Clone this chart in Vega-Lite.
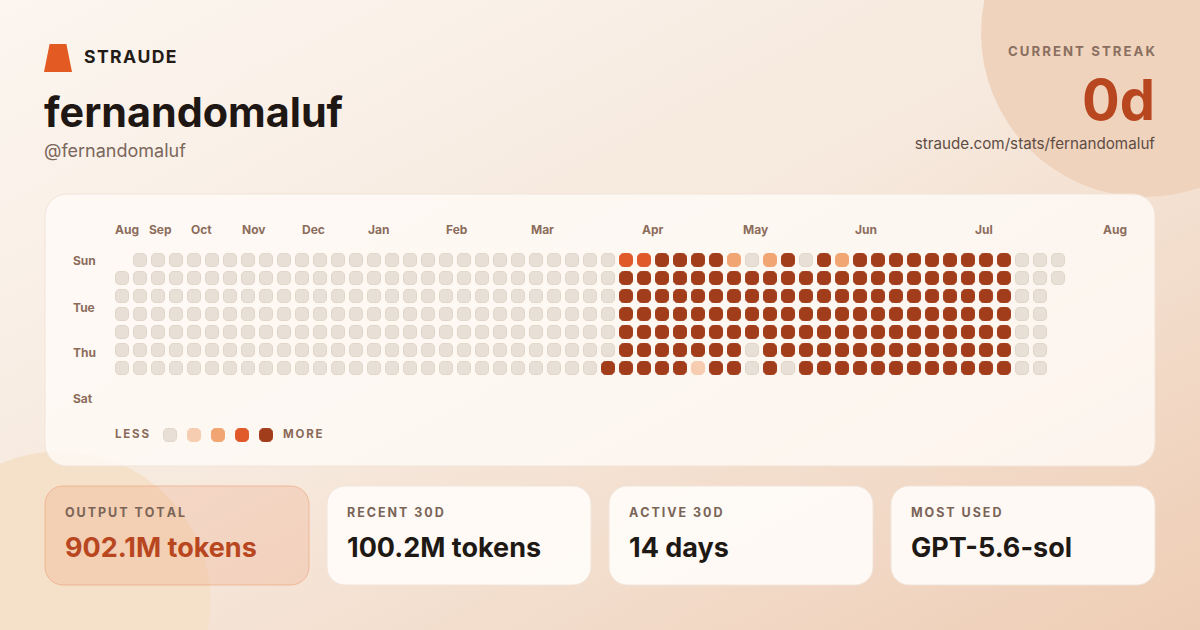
{
"$schema": "https://vega.github.io/schema/vega-lite/v6.json",
"width": 1200, "height": 630, "padding": 0,
"autosize": {"type": "fit", "contains": "padding"},
"background": "#F8EDE3",
"config": {"view": {"stroke": null}, "axis": {"disable": true}, "font": "Inter"},
"data": {"values": [{}]},
"datasets": {
"cells": [
{"week":0,"day":1,"level":0},{"week":0,"day":2,"level":0},{"week":0,"day":3,"level":0},{"week":0,"day":4,"level":0},{"week":0,"day":5,"level":0},{"week":0,"day":6,"level":0},
{"week":1,"day":0,"level":0},{"week":1,"day":1,"level":0},{"week":1,"day":2,"level":0},{"week":1,"day":3,"level":0},{"week":1,"day":4,"level":0},{"week":1,"day":5,"level":0},{"week":1,"day":6,"level":0},
{"week":2,"day":0,"level":0},{"week":2,"day":1,"level":0},{"week":2,"day":2,"level":0},{"week":2,"day":3,"level":0},{"week":2,"day":4,"level":0},{"week":2,"day":5,"level":0},{"week":2,"day":6,"level":0},
{"week":3,"day":0,"level":0},{"week":3,"day":1,"level":0},{"week":3,"day":2,"level":0},{"week":3,"day":3,"level":0},{"week":3,"day":4,"level":0},{"week":3,"day":5,"level":0},{"week":3,"day":6,"level":0},
{"week":4,"day":0,"level":0},{"week":4,"day":1,"level":0},{"week":4,"day":2,"level":0},{"week":4,"day":3,"level":0},{"week":4,"day":4,"level":0},{"week":4,"day":5,"level":0},{"week":4,"day":6,"level":0},
{"week":5,"day":0,"level":0},{"week":5,"day":1,"level":0},{"week":5,"day":2,"level":0},{"week":5,"day":3,"level":0},{"week":5,"day":4,"level":0},{"week":5,"day":5,"level":0},{"week":5,"day":6,"level":0},
{"week":6,"day":0,"level":0},{"week":6,"day":1,"level":0},{"week":6,"day":2,"level":0},{"week":6,"day":3,"level":0},{"week":6,"day":4,"level":0},{"week":6,"day":5,"level":0},{"week":6,"day":6,"level":0},
{"week":7,"day":0,"level":0},{"week":7,"day":1,"level":0},{"week":7,"day":2,"level":0},{"week":7,"day":3,"level":0},{"week":7,"day":4,"level":0},{"week":7,"day":5,"level":0},{"week":7,"day":6,"level":0},
{"week":8,"day":0,"level":0},{"week":8,"day":1,"level":0},{"week":8,"day":2,"level":0},{"week":8,"day":3,"level":0},{"week":8,"day":4,"level":0},{"week":8,"day":5,"level":0},{"week":8,"day":6,"level":0},
{"week":9,"day":0,"level":0},{"week":9,"day":1,"level":0},{"week":9,"day":2,"level":0},{"week":9,"day":3,"level":0},{"week":9,"day":4,"level":0},{"week":9,"day":5,"level":0},{"week":9,"day":6,"level":0},
{"week":10,"day":0,"level":0},{"week":10,"day":1,"level":0},{"week":10,"day":2,"level":0},{"week":10,"day":3,"level":0},{"week":10,"day":4,"level":0},{"week":10,"day":5,"level":0},{"week":10,"day":6,"level":0},
{"week":11,"day":0,"level":0},{"week":11,"day":1,"level":0},{"week":11,"day":2,"level":0},{"week":11,"day":3,"level":0},{"week":11,"day":4,"level":0},{"week":11,"day":5,"level":0},{"week":11,"day":6,"level":0},
{"week":12,"day":0,"level":0},{"week":12,"day":1,"level":0},{"week":12,"day":2,"level":0},{"week":12,"day":3,"level":0},{"week":12,"day":4,"level":0},{"week":12,"day":5,"level":0},{"week":12,"day":6,"level":0},
{"week":13,"day":0,"level":0},{"week":13,"day":1,"level":0},{"week":13,"day":2,"level":0},{"week":13,"day":3,"level":0},{"week":13,"day":4,"level":0},{"week":13,"day":5,"level":0},{"week":13,"day":6,"level":0},
{"week":14,"day":0,"level":0},{"week":14,"day":1,"level":0},{"week":14,"day":2,"level":0},{"week":14,"day":3,"level":0},{"week":14,"day":4,"level":0},{"week":14,"day":5,"level":0},{"week":14,"day":6,"level":0},
{"week":15,"day":0,"level":0},{"week":15,"day":1,"level":0},{"week":15,"day":2,"level":0},{"week":15,"day":3,"level":0},{"week":15,"day":4,"level":0},{"week":15,"day":5,"level":0},{"week":15,"day":6,"level":0},
{"week":16,"day":0,"level":0},{"week":16,"day":1,"level":0},{"week":16,"day":2,"level":0},{"week":16,"day":3,"level":0},{"week":16,"day":4,"level":0},{"week":16,"day":5,"level":0},{"week":16,"day":6,"level":0},
{"week":17,"day":0,"level":0},{"week":17,"day":1,"level":0},{"week":17,"day":2,"level":0},{"week":17,"day":3,"level":0},{"week":17,"day":4,"level":0},{"week":17,"day":5,"level":0},{"week":17,"day":6,"level":0},
{"week":18,"day":0,"level":0},{"week":18,"day":1,"level":0},{"week":18,"day":2,"level":0},{"week":18,"day":3,"level":0},{"week":18,"day":4,"level":0},{"week":18,"day":5,"level":0},{"week":18,"day":6,"level":0},
{"week":19,"day":0,"level":0},{"week":19,"day":1,"level":0},{"week":19,"day":2,"level":0},{"week":19,"day":3,"level":0},{"week":19,"day":4,"level":0},{"week":19,"day":5,"level":0},{"week":19,"day":6,"level":0},
{"week":20,"day":0,"level":0},{"week":20,"day":1,"level":0},{"week":20,"day":2,"level":0},{"week":20,"day":3,"level":0},{"week":20,"day":4,"level":0},{"week":20,"day":5,"level":0},{"week":20,"day":6,"level":0},
{"week":21,"day":0,"level":0},{"week":21,"day":1,"level":0},{"week":21,"day":2,"level":0},{"week":21,"day":3,"level":0},{"week":21,"day":4,"level":0},{"week":21,"day":5,"level":0},{"week":21,"day":6,"level":0},
{"week":22,"day":0,"level":0},{"week":22,"day":1,"level":0},{"week":22,"day":2,"level":0},{"week":22,"day":3,"level":0},{"week":22,"day":4,"level":0},{"week":22,"day":5,"level":0},{"week":22,"day":6,"level":0},
{"week":23,"day":0,"level":0},{"week":23,"day":1,"level":0},{"week":23,"day":2,"level":0},{"week":23,"day":3,"level":0},{"week":23,"day":4,"level":0},{"week":23,"day":5,"level":0},{"week":23,"day":6,"level":0},
{"week":24,"day":0,"level":0},{"week":24,"day":1,"level":0},{"week":24,"day":2,"level":0},{"week":24,"day":3,"level":0},{"week":24,"day":4,"level":0},{"week":24,"day":5,"level":0},{"week":24,"day":6,"level":0},
{"week":25,"day":0,"level":0},{"week":25,"day":1,"level":0},{"week":25,"day":2,"level":0},{"week":25,"day":3,"level":0},{"week":25,"day":4,"level":0},{"week":25,"day":5,"level":0},{"week":25,"day":6,"level":0},
{"week":26,"day":0,"level":0},{"week":26,"day":1,"level":0},{"week":26,"day":2,"level":0},{"week":26,"day":3,"level":0},{"week":26,"day":4,"level":0},{"week":26,"day":5,"level":0},{"week":26,"day":6,"level":0},
{"week":27,"day":0,"level":0},{"week":27,"day":1,"level":0},{"week":27,"day":2,"level":0},{"week":27,"day":3,"level":0},{"week":27,"day":4,"level":0},{"week":27,"day":5,"level":0},{"week":27,"day":6,"level":4},
{"week":28,"day":0,"level":3},{"week":28,"day":1,"level":4},{"week":28,"day":2,"level":4},{"week":28,"day":3,"level":4},{"week":28,"day":4,"level":4},{"week":28,"day":5,"level":4},{"week":28,"day":6,"level":4},
{"week":29,"day":0,"level":3},{"week":29,"day":1,"level":4},{"week":29,"day":2,"level":4},{"week":29,"day":3,"level":4},{"week":29,"day":4,"level":4},{"week":29,"day":5,"level":4},{"week":29,"day":6,"level":4},
{"week":30,"day":0,"level":4},{"week":30,"day":1,"level":4},{"week":30,"day":2,"level":4},{"week":30,"day":3,"level":4},{"week":30,"day":4,"level":4},{"week":30,"day":5,"level":4},{"week":30,"day":6,"level":4},
{"week":31,"day":0,"level":4},{"week":31,"day":1,"level":4},{"week":31,"day":2,"level":4},{"week":31,"day":3,"level":4},{"week":31,"day":4,"level":4},{"week":31,"day":5,"level":4},{"week":31,"day":6,"level":4},
{"week":32,"day":0,"level":4},{"week":32,"day":1,"level":4},{"week":32,"day":2,"level":4},{"week":32,"day":3,"level":4},{"week":32,"day":4,"level":4},{"week":32,"day":5,"level":4},{"week":32,"day":6,"level":1},
{"week":33,"day":0,"level":4},{"week":33,"day":1,"level":4},{"week":33,"day":2,"level":4},{"week":33,"day":3,"level":4},{"week":33,"day":4,"level":4},{"week":33,"day":5,"level":4},{"week":33,"day":6,"level":4},
{"week":34,"day":0,"level":2},{"week":34,"day":1,"level":4},{"week":34,"day":2,"level":4},{"week":34,"day":3,"level":4},{"week":34,"day":4,"level":4},{"week":34,"day":5,"level":4},{"week":34,"day":6,"level":4},
{"week":35,"day":0,"level":0},{"week":35,"day":1,"level":4},{"week":35,"day":2,"level":4},{"week":35,"day":3,"level":4},{"week":35,"day":4,"level":4},{"week":35,"day":5,"level":0},{"week":35,"day":6,"level":0},
{"week":36,"day":0,"level":2},{"week":36,"day":1,"level":4},{"week":36,"day":2,"level":4},{"week":36,"day":3,"level":4},{"week":36,"day":4,"level":4},{"week":36,"day":5,"level":4},{"week":36,"day":6,"level":4},
{"week":37,"day":0,"level":4},{"week":37,"day":1,"level":4},{"week":37,"day":2,"level":4},{"week":37,"day":3,"level":4},{"week":37,"day":4,"level":4},{"week":37,"day":5,"level":4},{"week":37,"day":6,"level":0},
{"week":38,"day":0,"level":0},{"week":38,"day":1,"level":4},{"week":38,"day":2,"level":4},{"week":38,"day":3,"level":4},{"week":38,"day":4,"level":4},{"week":38,"day":5,"level":4},{"week":38,"day":6,"level":4},
{"week":39,"day":0,"level":4},{"week":39,"day":1,"level":4},{"week":39,"day":2,"level":4},{"week":39,"day":3,"level":4},{"week":39,"day":4,"level":4},{"week":39,"day":5,"level":4},{"week":39,"day":6,"level":4},
{"week":40,"day":0,"level":2},{"week":40,"day":1,"level":4},{"week":40,"day":2,"level":4},{"week":40,"day":3,"level":4},{"week":40,"day":4,"level":4},{"week":40,"day":5,"level":4},{"week":40,"day":6,"level":4},
{"week":41,"day":0,"level":4},{"week":41,"day":1,"level":4},{"week":41,"day":2,"level":4},{"week":41,"day":3,"level":4},{"week":41,"day":4,"level":4},{"week":41,"day":5,"level":4},{"week":41,"day":6,"level":4},
{"week":42,"day":0,"level":4},{"week":42,"day":1,"level":4},{"week":42,"day":2,"level":4},{"week":42,"day":3,"level":4},{"week":42,"day":4,"level":4},{"week":42,"day":5,"level":4},{"week":42,"day":6,"level":4},
{"week":43,"day":0,"level":4},{"week":43,"day":1,"level":4},{"week":43,"day":2,"level":4},{"week":43,"day":3,"level":4},{"week":43,"day":4,"level":4},{"week":43,"day":5,"level":4},{"week":43,"day":6,"level":4},
{"week":44,"day":0,"level":4},{"week":44,"day":1,"level":4},{"week":44,"day":2,"level":4},{"week":44,"day":3,"level":4},{"week":44,"day":4,"level":4},{"week":44,"day":5,"level":4},{"week":44,"day":6,"level":4},
{"week":45,"day":0,"level":4},{"week":45,"day":1,"level":4},{"week":45,"day":2,"level":4},{"week":45,"day":3,"level":4},{"week":45,"day":4,"level":4},{"week":45,"day":5,"level":4},{"week":45,"day":6,"level":4},
{"week":46,"day":0,"level":4},{"week":46,"day":1,"level":4},{"week":46,"day":2,"level":4},{"week":46,"day":3,"level":4},{"week":46,"day":4,"level":4},{"week":46,"day":5,"level":4},{"week":46,"day":6,"level":4},
{"week":47,"day":0,"level":4},{"week":47,"day":1,"level":4},{"week":47,"day":2,"level":4},{"week":47,"day":3,"level":4},{"week":47,"day":4,"level":4},{"week":47,"day":5,"level":4},{"week":47,"day":6,"level":4},
{"week":48,"day":0,"level":4},{"week":48,"day":1,"level":4},{"week":48,"day":2,"level":4},{"week":48,"day":3,"level":4},{"week":48,"day":4,"level":4},{"week":48,"day":5,"level":4},{"week":48,"day":6,"level":4},
{"week":49,"day":0,"level":4},{"week":49,"day":1,"level":4},{"week":49,"day":2,"level":4},{"week":49,"day":3,"level":4},{"week":49,"day":4,"level":4},{"week":49,"day":5,"level":4},{"week":49,"day":6,"level":4},
{"week":50,"day":0,"level":0},{"week":50,"day":1,"level":0},{"week":50,"day":2,"level":0},{"week":50,"day":3,"level":0},{"week":50,"day":4,"level":0},{"week":50,"day":5,"level":0},{"week":50,"day":6,"level":0},
{"week":51,"day":0,"level":0},{"week":51,"day":1,"level":0},{"week":51,"day":2,"level":0},{"week":51,"day":3,"level":0},{"week":51,"day":4,"level":0},{"week":51,"day":5,"level":0},{"week":51,"day":6,"level":0},
{"week":52,"day":0,"level":0},{"week":52,"day":1,"level":0}
],
"months": [
{"month":"Aug","week":-0.39},{"month":"Sep","week":1.5},{"month":"Oct","week":3.83},{"month":"Nov","week":6.67},
{"month":"Dec","week":10.0},{"month":"Jan","week":13.67},{"month":"Feb","week":18.0},{"month":"Mar","week":22.72},
{"month":"Apr","week":28.89},{"month":"May","week":34.5},{"month":"Jun","week":40.72},{"month":"Jul","week":47.39},
{"month":"Aug","week":54.5}
],
"days": [
{"label":"Sun","row":0.08},{"label":"Tue","row":2.64},{"label":"Thu","row":5.19},{"label":"Sat","row":7.75}
]
},
"layer": [
{"mark": {"type": "rect", "fill": {"gradient": "linear", "x1": 0, "y1": 0, "x2": 1, "y2": 1, "stops": [{"offset": 0, "color": "#FCF6F0"}, {"offset": 0.5, "color": "#F6E8DC"}, {"offset": 1, "color": "#EECDB5"}]}},
 "encoding": {"x": {"datum": -6.7778, "type": "quantitative", "scale": {"domain": [-6.7778, 59.8889], "nice": false, "zero": false}, "axis": null}, "x2": {"datum": 59.8889},
  "y": {"datum": -14.4444, "type": "quantitative", "scale": {"domain": [-14.4444, 20.5556], "nice": false, "zero": false, "reverse": true}, "axis": null}, "y2": {"datum": 20.5556}}},
{"mark": {"type": "point", "shape": "circle", "filled": true, "size": 107521, "fill": "#F0D3BD", "opacity": 1, "strokeWidth": 0, "clip": true},
 "encoding": {"x": {"datum": 56.8333, "type": "quantitative", "scale": {"domain": [-6.7778, 59.8889], "nice": false, "zero": false}, "axis": null},
  "y": {"datum": -12.6111, "type": "quantitative", "scale": {"domain": [-14.4444, 20.5556], "nice": false, "zero": false, "reverse": true}, "axis": null}}},
{"mark": {"type": "point", "shape": "circle", "filled": true, "size": 90792, "fill": "#F5E0C9", "opacity": 1, "strokeWidth": 0, "clip": true},
 "encoding": {"x": {"datum": -3.4444, "type": "quantitative", "scale": {"domain": [-6.7778, 59.8889], "nice": false, "zero": false}, "axis": null},
  "y": {"datum": 19.0, "type": "quantitative", "scale": {"domain": [-14.4444, 20.5556], "nice": false, "zero": false, "reverse": true}, "axis": null}}},
{"mark": {"type": "rect", "cornerRadius": 22, "fill": "#FFFBF7", "fillOpacity": 0.8, "stroke": "#F1E4D8", "strokeWidth": 1},
 "encoding": {"x": {"datum": -4.2778, "type": "quantitative", "scale": {"domain": [-6.7778, 59.8889], "nice": false, "zero": false}, "axis": null}, "x2": {"datum": 57.3889},
  "y": {"datum": -3.6667, "type": "quantitative", "scale": {"domain": [-14.4444, 20.5556], "nice": false, "zero": false, "reverse": true}, "axis": null}, "y2": {"datum": 11.4444}}},
{"data": {"name": "cells"},
 "mark": {"type": "rect", "cornerRadius": 4, "strokeWidth": 1, "xOffset": -6.5, "x2Offset": 6.5, "yOffset": -6.5, "y2Offset": 6.5},
 "encoding": {"x": {"field": "week", "type": "quantitative", "scale": {"domain": [-6.7778, 59.8889], "nice": false, "zero": false}, "axis": null}, "x2": {"field": "week"},
  "y": {"field": "day", "type": "quantitative", "scale": {"domain": [-14.4444, 20.5556], "nice": false, "zero": false, "reverse": true}, "axis": null}, "y2": {"field": "day"},
  "fill": {"field": "level", "type": "ordinal", "scale": {"domain": [0, 1, 2, 3, 4], "range": ["#E8E0D6", "#F6CDB1", "#F1A572", "#E0592A", "#A23D1B"]}, "legend": null},
  "stroke": {"field": "level", "type": "ordinal", "scale": {"domain": [0, 1, 2, 3, 4], "range": ["#DFD5C9", "#F6CDB1", "#F1A572", "#E0592A", "#A23D1B"]}, "legend": null}}},
{"data": {"name": "months"},
 "mark": {"type": "text", "align": "left", "baseline": "middle", "fontSize": 12, "fontWeight": 700, "fill": "#8C6D5C"},
 "encoding": {"x": {"field": "week", "type": "quantitative", "scale": {"domain": [-6.7778, 59.8889], "nice": false, "zero": false}, "axis": null},
  "y": {"datum": -1.6667, "type": "quantitative", "scale": {"domain": [-14.4444, 20.5556], "nice": false, "zero": false, "reverse": true}, "axis": null},
  "text": {"field": "month"}}},
{"data": {"name": "days"},
 "mark": {"type": "text", "align": "left", "baseline": "middle", "fontSize": 12, "fontWeight": 700, "fill": "#8C6D5C"},
 "encoding": {"x": {"datum": -2.7222, "type": "quantitative", "scale": {"domain": [-6.7778, 59.8889], "nice": false, "zero": false}, "axis": null},
  "y": {"field": "row", "type": "quantitative", "scale": {"domain": [-14.4444, 20.5556], "nice": false, "zero": false, "reverse": true}, "axis": null},
  "text": {"field": "label"}}},
{"mark": {"type": "text", "text": "L\u2009E\u2009S\u2009S", "align": "left", "baseline": "middle", "fontSize": 11.5, "fontWeight": 700, "fill": "#8A6A5A"},
 "encoding": {"x": {"datum": -0.3889, "type": "quantitative", "scale": {"domain": [-6.7778, 59.8889], "nice": false, "zero": false}, "axis": null},
  "y": {"datum": 9.7222, "type": "quantitative", "scale": {"domain": [-14.4444, 20.5556], "nice": false, "zero": false, "reverse": true}, "axis": null}}},
{"mark": {"type": "text", "text": "M\u2009O\u2009R\u2009E", "align": "left", "baseline": "middle", "fontSize": 11.5, "fontWeight": 700, "fill": "#8A6A5A"},
 "encoding": {"x": {"datum": 8.9444, "type": "quantitative", "scale": {"domain": [-6.7778, 59.8889], "nice": false, "zero": false}, "axis": null},
  "y": {"datum": 9.7222, "type": "quantitative", "scale": {"domain": [-14.4444, 20.5556], "nice": false, "zero": false, "reverse": true}, "axis": null}}},
{"mark": {"type": "rect", "cornerRadius": 4, "fill": "#E8E0D6", "stroke": "#DFD5C9", "strokeWidth": 1, "xOffset": -6.5, "x2Offset": 6.5, "yOffset": -6.5, "y2Offset": 6.5},
 "encoding": {"x": {"datum": 2.6667, "type": "quantitative", "scale": {"domain": [-6.7778, 59.8889], "nice": false, "zero": false}, "axis": null}, "x2": {"datum": 2.6667},
  "y": {"datum": 9.7222, "type": "quantitative", "scale": {"domain": [-14.4444, 20.5556], "nice": false, "zero": false, "reverse": true}, "axis": null}, "y2": {"datum": 9.7222}}},
{"mark": {"type": "rect", "cornerRadius": 4, "fill": "#F6CDB1", "stroke": "#F6CDB1", "strokeWidth": 1, "xOffset": -6.5, "x2Offset": 6.5, "yOffset": -6.5, "y2Offset": 6.5},
 "encoding": {"x": {"datum": 4.0, "type": "quantitative", "scale": {"domain": [-6.7778, 59.8889], "nice": false, "zero": false}, "axis": null}, "x2": {"datum": 4.0},
  "y": {"datum": 9.7222, "type": "quantitative", "scale": {"domain": [-14.4444, 20.5556], "nice": false, "zero": false, "reverse": true}, "axis": null}, "y2": {"datum": 9.7222}}},
{"mark": {"type": "rect", "cornerRadius": 4, "fill": "#F1A572", "stroke": "#F1A572", "strokeWidth": 1, "xOffset": -6.5, "x2Offset": 6.5, "yOffset": -6.5, "y2Offset": 6.5},
 "encoding": {"x": {"datum": 5.3333, "type": "quantitative", "scale": {"domain": [-6.7778, 59.8889], "nice": false, "zero": false}, "axis": null}, "x2": {"datum": 5.3333},
  "y": {"datum": 9.7222, "type": "quantitative", "scale": {"domain": [-14.4444, 20.5556], "nice": false, "zero": false, "reverse": true}, "axis": null}, "y2": {"datum": 9.7222}}},
{"mark": {"type": "rect", "cornerRadius": 4, "fill": "#E0592A", "stroke": "#E0592A", "strokeWidth": 1, "xOffset": -6.5, "x2Offset": 6.5, "yOffset": -6.5, "y2Offset": 6.5},
 "encoding": {"x": {"datum": 6.6667, "type": "quantitative", "scale": {"domain": [-6.7778, 59.8889], "nice": false, "zero": false}, "axis": null}, "x2": {"datum": 6.6667},
  "y": {"datum": 9.7222, "type": "quantitative", "scale": {"domain": [-14.4444, 20.5556], "nice": false, "zero": false, "reverse": true}, "axis": null}, "y2": {"datum": 9.7222}}},
{"mark": {"type": "rect", "cornerRadius": 4, "fill": "#A23D1B", "stroke": "#A23D1B", "strokeWidth": 1, "xOffset": -6.5, "x2Offset": 6.5, "yOffset": -6.5, "y2Offset": 6.5},
 "encoding": {"x": {"datum": 8.0, "type": "quantitative", "scale": {"domain": [-6.7778, 59.8889], "nice": false, "zero": false}, "axis": null}, "x2": {"datum": 8.0},
  "y": {"datum": 9.7222, "type": "quantitative", "scale": {"domain": [-14.4444, 20.5556], "nice": false, "zero": false, "reverse": true}, "axis": null}, "y2": {"datum": 9.7222}}},
{"mark": {"type": "point", "shape": "M-0.6,-1L0.6,-1L1,1L-1,1Z", "filled": true, "size": 784, "fill": "#E35A22", "opacity": 1, "strokeWidth": 0},
 "encoding": {"x": {"datum": -3.5556, "type": "quantitative", "scale": {"domain": [-6.7778, 59.8889], "nice": false, "zero": false}, "axis": null},
  "y": {"datum": -11.2222, "type": "quantitative", "scale": {"domain": [-14.4444, 20.5556], "nice": false, "zero": false, "reverse": true}, "axis": null}}},
{"mark": {"type": "text", "text": "S\u200aT\u200aR\u200aA\u200aU\u200aD\u200aE", "align": "left", "baseline": "middle", "fontSize": 17.6, "fontWeight": 700, "fill": "#231B16"},
 "encoding": {"x": {"datum": -2.1111, "type": "quantitative", "scale": {"domain": [-6.7778, 59.8889], "nice": false, "zero": false}, "axis": null},
  "y": {"datum": -11.2222, "type": "quantitative", "scale": {"domain": [-14.4444, 20.5556], "nice": false, "zero": false, "reverse": true}, "axis": null}}},
{"mark": {"type": "text", "text": "fernandomaluf", "align": "left", "baseline": "alphabetic", "fontSize": 41.3, "fontWeight": 700, "fill": "#1F1713"},
 "encoding": {"x": {"datum": -4.3333, "type": "quantitative", "scale": {"domain": [-6.7778, 59.8889], "nice": false, "zero": false}, "axis": null},
  "y": {"datum": -7.3889, "type": "quantitative", "scale": {"domain": [-14.4444, 20.5556], "nice": false, "zero": false, "reverse": true}, "axis": null}}},
{"mark": {"type": "text", "text": "@fernandomaluf", "align": "left", "baseline": "alphabetic", "fontSize": 18, "fontWeight": 400, "fill": "#7B675C"},
 "encoding": {"x": {"datum": -4.3333, "type": "quantitative", "scale": {"domain": [-6.7778, 59.8889], "nice": false, "zero": false}, "axis": null},
  "y": {"datum": -5.7222, "type": "quantitative", "scale": {"domain": [-14.4444, 20.5556], "nice": false, "zero": false, "reverse": true}, "axis": null}}},
{"mark": {"type": "text", "text": "C\u2009U\u2009R\u2009R\u2009E\u2009N\u2009T\u2009 \u2009S\u2009T\u2009R\u2009E\u2009A\u2009K", "align": "right", "baseline": "middle", "fontSize": 13.2, "fontWeight": 700, "fill": "#8A6F60"},
 "encoding": {"x": {"datum": 57.3889, "type": "quantitative", "scale": {"domain": [-6.7778, 59.8889], "nice": false, "zero": false}, "axis": null},
  "y": {"datum": -11.5278, "type": "quantitative", "scale": {"domain": [-14.4444, 20.5556], "nice": false, "zero": false, "reverse": true}, "axis": null}}},
{"mark": {"type": "text", "text": "0d", "align": "right", "baseline": "alphabetic", "fontSize": 56, "fontWeight": 700, "fill": "#B8471F"},
 "encoding": {"x": {"datum": 57.3889, "type": "quantitative", "scale": {"domain": [-6.7778, 59.8889], "nice": false, "zero": false}, "axis": null},
  "y": {"datum": -7.7778, "type": "quantitative", "scale": {"domain": [-14.4444, 20.5556], "nice": false, "zero": false, "reverse": true}, "axis": null}}},
{"mark": {"type": "text", "text": "straude.com/stats/fernandomaluf", "align": "right", "baseline": "alphabetic", "fontSize": 15.2, "fontWeight": 400, "fill": "#5F4D44"},
 "encoding": {"x": {"datum": 57.3889, "type": "quantitative", "scale": {"domain": [-6.7778, 59.8889], "nice": false, "zero": false}, "axis": null},
  "y": {"datum": -6.1667, "type": "quantitative", "scale": {"domain": [-14.4444, 20.5556], "nice": false, "zero": false, "reverse": true}, "axis": null}}},
{"mark": {"type": "rect", "cornerRadius": 18, "fill": "#EC8B5E", "fillOpacity": 0.2, "stroke": "#EBA27A", "strokeOpacity": 0.6, "strokeWidth": 1},
 "encoding": {"x": {"datum": -4.2778, "type": "quantitative", "scale": {"domain": [-6.7778, 59.8889], "nice": false, "zero": false}, "axis": null}, "x2": {"datum": 10.3889},
  "y": {"datum": 12.5556, "type": "quantitative", "scale": {"domain": [-14.4444, 20.5556], "nice": false, "zero": false, "reverse": true}, "axis": null}, "y2": {"datum": 18.0556}}},
{"mark": {"type": "rect", "cornerRadius": 18, "fill": "#FFFCF9", "fillOpacity": 0.92, "stroke": "#F1E5DA", "strokeWidth": 1},
 "encoding": {"x": {"datum": 11.3889, "type": "quantitative", "scale": {"domain": [-6.7778, 59.8889], "nice": false, "zero": false}, "axis": null}, "x2": {"datum": 26.0556},
  "y": {"datum": 12.5556, "type": "quantitative", "scale": {"domain": [-14.4444, 20.5556], "nice": false, "zero": false, "reverse": true}, "axis": null}, "y2": {"datum": 18.0556}}},
{"mark": {"type": "rect", "cornerRadius": 18, "fill": "#FFFCF9", "fillOpacity": 0.92, "stroke": "#F1E5DA", "strokeWidth": 1},
 "encoding": {"x": {"datum": 27.0556, "type": "quantitative", "scale": {"domain": [-6.7778, 59.8889], "nice": false, "zero": false}, "axis": null}, "x2": {"datum": 41.7222},
  "y": {"datum": 12.5556, "type": "quantitative", "scale": {"domain": [-14.4444, 20.5556], "nice": false, "zero": false, "reverse": true}, "axis": null}, "y2": {"datum": 18.0556}}},
{"mark": {"type": "rect", "cornerRadius": 18, "fill": "#FFFCF9", "fillOpacity": 0.92, "stroke": "#F1E5DA", "strokeWidth": 1},
 "encoding": {"x": {"datum": 42.7222, "type": "quantitative", "scale": {"domain": [-6.7778, 59.8889], "nice": false, "zero": false}, "axis": null}, "x2": {"datum": 57.3889},
  "y": {"datum": 12.5556, "type": "quantitative", "scale": {"domain": [-14.4444, 20.5556], "nice": false, "zero": false, "reverse": true}, "axis": null}, "y2": {"datum": 18.0556}}},
{"mark": {"type": "text", "text": "O\u2009U\u2009T\u2009P\u2009U\u2009T\u2009 \u2009T\u2009O\u2009T\u2009A\u2009L", "align": "left", "baseline": "middle", "fontSize": 12.5, "fontWeight": 700, "fill": "#7A6457"},
 "encoding": {"x": {"datum": -3.1667, "type": "quantitative", "scale": {"domain": [-6.7778, 59.8889], "nice": false, "zero": false}, "axis": null},
  "y": {"datum": 14.0556, "type": "quantitative", "scale": {"domain": [-14.4444, 20.5556], "nice": false, "zero": false, "reverse": true}, "axis": null}}},
{"mark": {"type": "text", "text": "R\u2009E\u2009C\u2009E\u2009N\u2009T\u2009 \u20093\u20090\u2009D", "align": "left", "baseline": "middle", "fontSize": 12.5, "fontWeight": 700, "fill": "#7A6457"},
 "encoding": {"x": {"datum": 12.5, "type": "quantitative", "scale": {"domain": [-6.7778, 59.8889], "nice": false, "zero": false}, "axis": null},
  "y": {"datum": 14.0556, "type": "quantitative", "scale": {"domain": [-14.4444, 20.5556], "nice": false, "zero": false, "reverse": true}, "axis": null}}},
{"mark": {"type": "text", "text": "A\u2009C\u2009T\u2009I\u2009V\u2009E\u2009 \u20093\u20090\u2009D", "align": "left", "baseline": "middle", "fontSize": 12.5, "fontWeight": 700, "fill": "#7A6457"},
 "encoding": {"x": {"datum": 28.1667, "type": "quantitative", "scale": {"domain": [-6.7778, 59.8889], "nice": false, "zero": false}, "axis": null},
  "y": {"datum": 14.0556, "type": "quantitative", "scale": {"domain": [-14.4444, 20.5556], "nice": false, "zero": false, "reverse": true}, "axis": null}}},
{"mark": {"type": "text", "text": "M\u2009O\u2009S\u2009T\u2009 \u2009U\u2009S\u2009E\u2009D", "align": "left", "baseline": "middle", "fontSize": 12.5, "fontWeight": 700, "fill": "#7A6457"},
 "encoding": {"x": {"datum": 43.8333, "type": "quantitative", "scale": {"domain": [-6.7778, 59.8889], "nice": false, "zero": false}, "axis": null},
  "y": {"datum": 14.0556, "type": "quantitative", "scale": {"domain": [-14.4444, 20.5556], "nice": false, "zero": false, "reverse": true}, "axis": null}}},
{"mark": {"type": "text", "text": "902.1M tokens", "align": "left", "baseline": "alphabetic", "fontSize": 27, "fontWeight": 700, "fill": "#B8471F"},
 "encoding": {"x": {"datum": -3.1667, "type": "quantitative", "scale": {"domain": [-6.7778, 59.8889], "nice": false, "zero": false}, "axis": null},
  "y": {"datum": 16.5, "type": "quantitative", "scale": {"domain": [-14.4444, 20.5556], "nice": false, "zero": false, "reverse": true}, "axis": null}}},
{"mark": {"type": "text", "text": "100.2M tokens", "align": "left", "baseline": "alphabetic", "fontSize": 27, "fontWeight": 700, "fill": "#1E1915"},
 "encoding": {"x": {"datum": 12.5, "type": "quantitative", "scale": {"domain": [-6.7778, 59.8889], "nice": false, "zero": false}, "axis": null},
  "y": {"datum": 16.5, "type": "quantitative", "scale": {"domain": [-14.4444, 20.5556], "nice": false, "zero": false, "reverse": true}, "axis": null}}},
{"mark": {"type": "text", "text": "14 days", "align": "left", "baseline": "alphabetic", "fontSize": 27, "fontWeight": 700, "fill": "#1E1915"},
 "encoding": {"x": {"datum": 28.1667, "type": "quantitative", "scale": {"domain": [-6.7778, 59.8889], "nice": false, "zero": false}, "axis": null},
  "y": {"datum": 16.5, "type": "quantitative", "scale": {"domain": [-14.4444, 20.5556], "nice": false, "zero": false, "reverse": true}, "axis": null}}},
{"mark": {"type": "text", "text": "GPT-5.6-sol", "align": "left", "baseline": "alphabetic", "fontSize": 27, "fontWeight": 700, "fill": "#1E1915"},
 "encoding": {"x": {"datum": 43.8333, "type": "quantitative", "scale": {"domain": [-6.7778, 59.8889], "nice": false, "zero": false}, "axis": null},
  "y": {"datum": 16.5, "type": "quantitative", "scale": {"domain": [-14.4444, 20.5556], "nice": false, "zero": false, "reverse": true}, "axis": null}}}
]
}
